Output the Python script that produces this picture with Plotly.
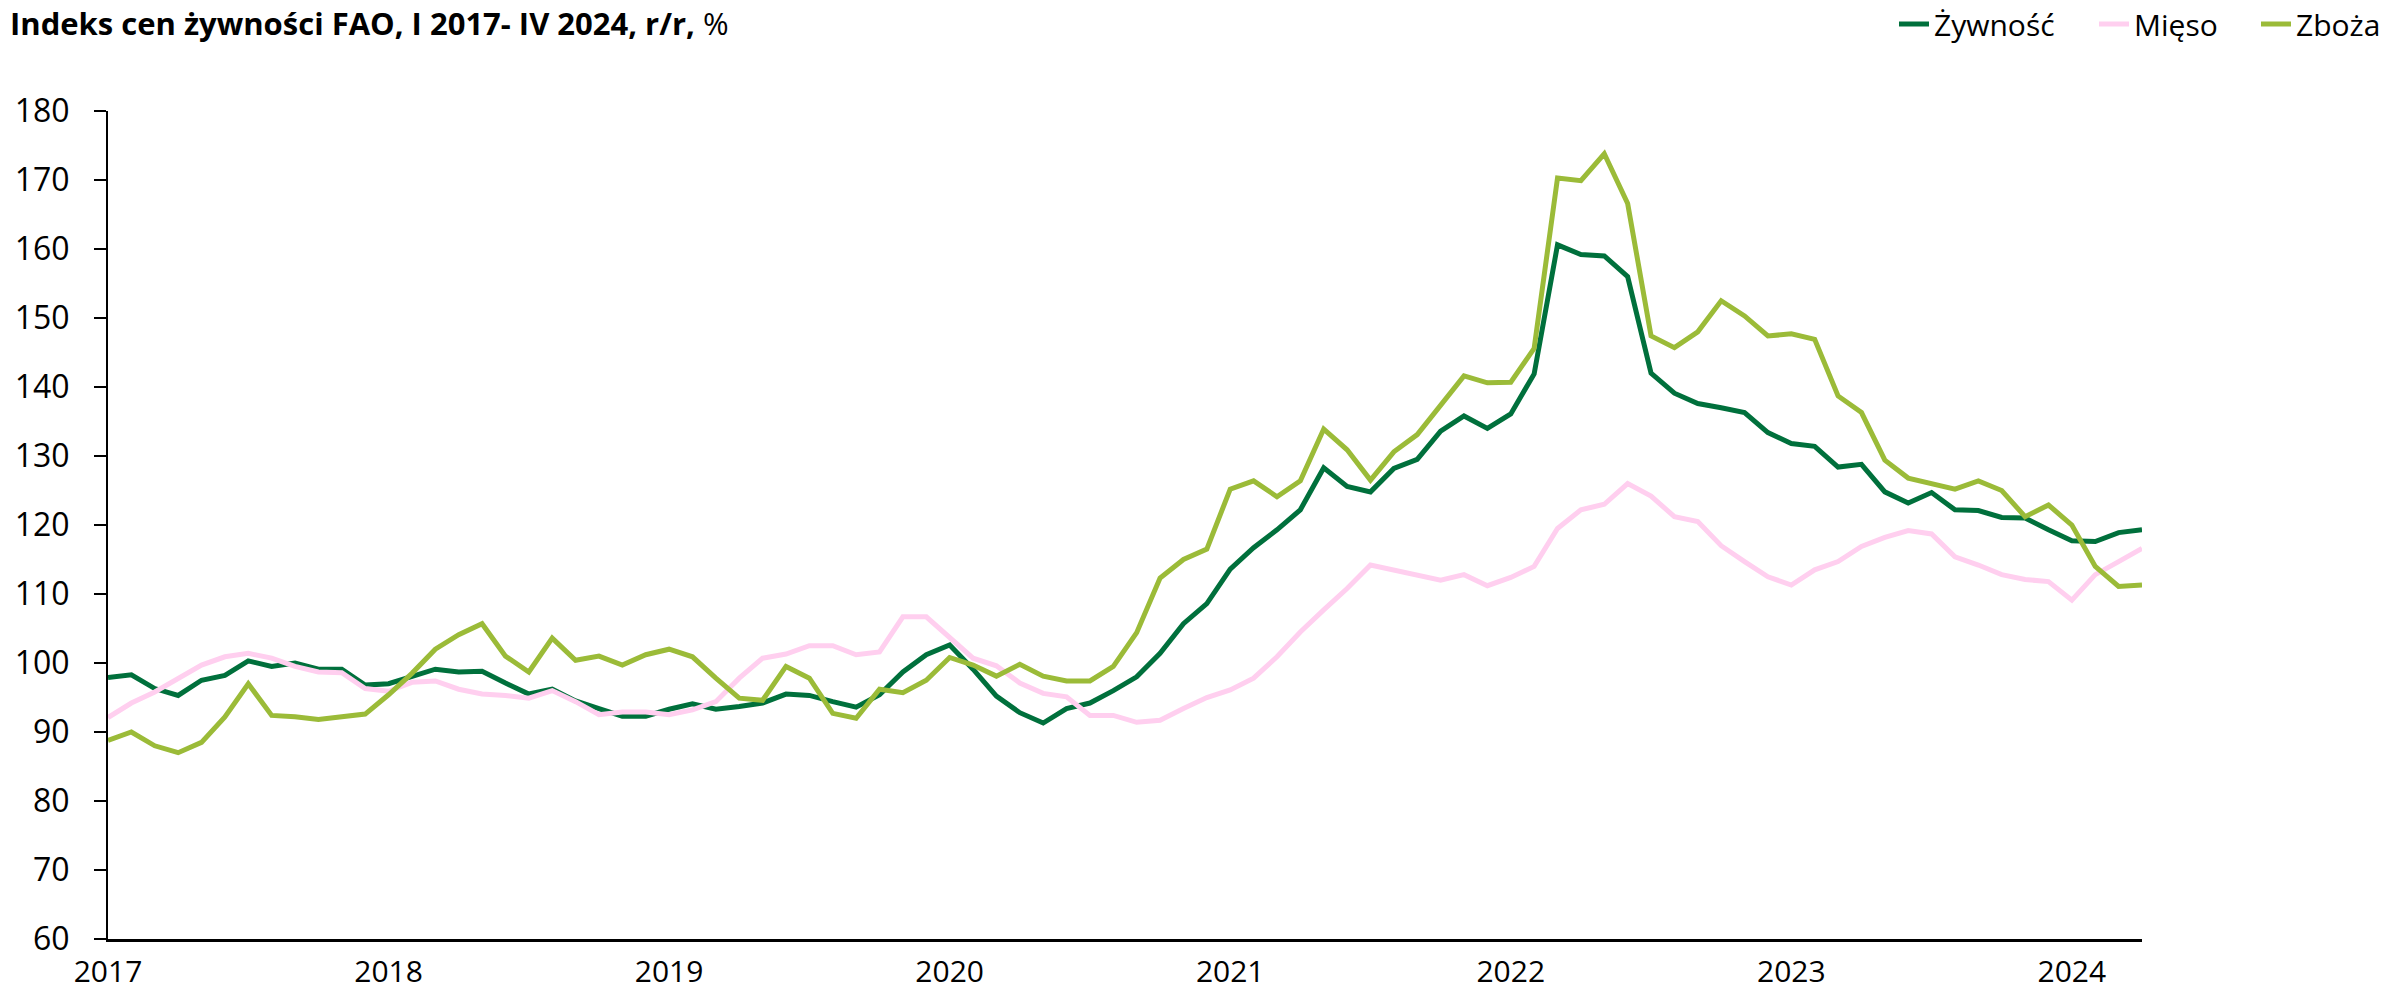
import plotly.graph_objects as go

# Monthly categories: I 2017 .. IV 2024
months = [f"{y}-{m:02d}" for y in range(2017, 2025) for m in range(1, 13)][:88]
year_ticks = ["2017-01", "2018-01", "2019-01", "2020-01", "2021-01", "2022-01", "2023-01", "2024-01"]
year_labels = ["2017", "2018", "2019", "2020", "2021", "2022", "2023", "2024"]

zywnosc = [97.9, 98.3, 96.3, 95.3, 97.5, 98.2, 100.3, 99.5, 100.0, 99.1, 99.1, 96.8,
           97.0, 98.0, 99.1, 98.7, 98.8, 97.1, 95.5, 96.2, 94.5, 93.4, 92.3, 92.3,
           93.3, 94.1, 93.3, 93.7, 94.2, 95.5, 95.3, 94.4, 93.6, 95.4, 98.7, 101.2,
           102.6, 99.1, 95.2, 92.8, 91.3, 93.4, 94.2, 96.0, 98.0, 101.4, 105.7, 108.6,
           113.6, 116.7, 119.3, 122.2, 128.3, 125.6, 124.8, 128.2, 129.5, 133.6, 135.8, 134.0,
           136.1, 141.9, 160.6, 159.2, 159.0, 156.0, 142.0, 139.1, 137.6, 137.0, 136.3, 133.4,
           131.8, 131.4, 128.4, 128.8, 124.8, 123.2, 124.7, 122.2, 122.1, 121.1, 121.0, 119.3,
           117.7, 117.6, 118.9, 119.3]

mieso = [92.1, 94.2, 95.8, 97.8, 99.7, 100.9, 101.4, 100.7, 99.5, 98.7, 98.6, 96.3,
         95.9, 97.2, 97.4, 96.2, 95.5, 95.3, 94.9, 96.0, 94.4, 92.5, 92.9, 92.9,
         92.5, 93.2, 94.4, 97.8, 100.7, 101.3, 102.5, 102.5, 101.2, 101.6, 106.7, 106.7,
         103.7, 100.7, 99.6, 97.1, 95.6, 95.1, 92.4, 92.4, 91.4, 91.7, 93.4, 95.0,
         96.1, 97.8, 100.9, 104.5, 107.7, 110.8, 114.2, 113.5, 112.8, 112.0, 112.8, 111.2,
         112.4, 114.0, 119.5, 122.2, 123.0, 126.0, 124.2, 121.2, 120.5, 117.0, 114.7, 112.5,
         111.3, 113.5, 114.7, 116.9, 118.2, 119.2, 118.7, 115.4, 114.2, 112.8, 112.1, 111.8,
         109.1, 112.8, 114.7, 116.6]

zboza = [88.8, 90.0, 88.0, 87.0, 88.5, 92.2, 97.0, 92.4, 92.2, 91.8, 92.2, 92.6,
         95.4, 98.5, 102.0, 104.1, 105.7, 101.0, 98.7, 103.6, 100.4, 101.0, 99.7, 101.2,
         102.0, 100.9, 97.8, 94.9, 94.6, 99.5, 97.8, 92.7, 92.0, 96.2, 95.7, 97.5,
         100.8, 99.7, 98.1, 99.8, 98.1, 97.4, 97.4, 99.5, 104.4, 112.3, 115.0, 116.5,
         125.2, 126.4, 124.1, 126.4, 133.9, 130.9, 126.5, 130.6, 133.1, 137.4, 141.6, 140.6,
         140.7, 145.6, 170.3, 169.9, 173.8, 166.6, 147.4, 145.7, 148.0, 152.5, 150.3, 147.4,
         147.7, 146.9, 138.7, 136.3, 129.4, 126.8, 126.0, 125.2, 126.4, 125.0, 121.2, 122.9,
         120.0, 114.0, 111.1, 111.3]

series = [
    ("Żywność", zywnosc, "#00703C", "legend"),
    ("Mięso", mieso, "#FFCFEF", "legend2"),
    ("Zboża", zboza, "#9BBB38", "legend3"),
]

FONT = "Open Sans"
W, H = 2395, 993

fig = go.Figure()
for name, vals, color, lg in series:
    fig.add_trace(go.Scatter(
        x=months, y=vals, name=name, mode="lines",
        line=dict(color=color, width=5), legend=lg,
    ))

def legend_box(left_px):
    return dict(
        orientation="h",
        x=left_px / W, xref="container", xanchor="left",
        y=1 - 24 / H, yref="container", yanchor="middle",
        font=dict(family=FONT, size=30, color="black"),
        bgcolor="rgba(0,0,0,0)", borderwidth=0,
    )

fig.update_layout(
    width=W, height=H,
    margin=dict(l=108, r=253, t=111, b=54),
    paper_bgcolor="white", plot_bgcolor="white",
    font=dict(family=FONT, color="black", size=30),
    title=dict(
        text="<b>Indeks cen żywności FAO, I 2017- IV 2024, r/r,</b> %",
        x=10 / W, xref="container", xanchor="left",
        y=1 - 24 / H, yref="container", yanchor="middle",
        font=dict(family=FONT, size=31, color="black"),
    ),
    legend=legend_box(1894),
    legend2=legend_box(2094),
    legend3=legend_box(2256),
    showlegend=True,
)

fig.update_xaxes(
    type="category",
    range=[0, len(months) - 1],
    tickmode="array", tickvals=year_ticks, ticktext=year_labels,
    showgrid=False, zeroline=False, automargin=False,
    showline=True, linecolor="black", linewidth=3,
    ticks="", ticklabelstandoff=4,
    tickfont=dict(family=FONT, size=30, color="black"),
)
fig.update_yaxes(
    range=[60, 180], dtick=10, tick0=60,
    showgrid=False, zeroline=False, automargin=False,
    showline=True, linecolor="black", linewidth=2,
    ticks="outside", ticklen=12, tickwidth=2, tickcolor="black",
    ticklabelstandoff=18,
    tickfont=dict(family=FONT, size=32, color="black"),
)

fig.write_html(
    "out.html",
    config={"displayModeBar": False},
    post_script="document.body.style.margin='0px';document.body.style.overflow='hidden';",
)
